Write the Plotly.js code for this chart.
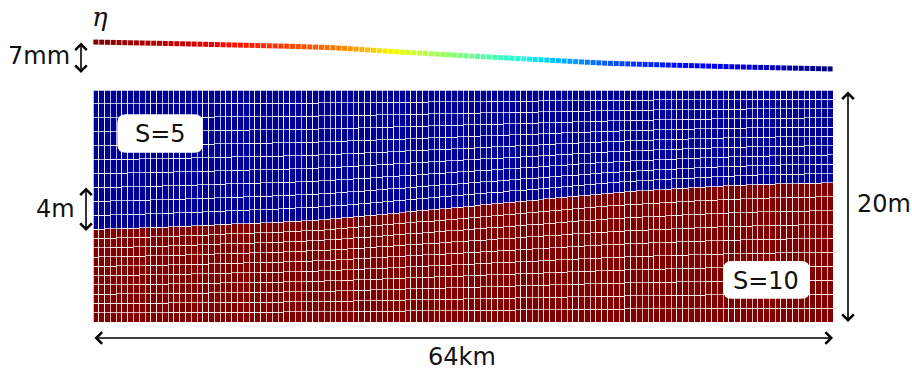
<!DOCTYPE html>
<html>
<head>
<meta charset="utf-8">
<script src="https://cdn.plot.ly/plotly-3.0.1.min.js"></script>
<style>html,body{margin:0;padding:0;background:#fff;}#chart{width:912px;height:370px;}</style>
</head>
<body>
<div id="chart"></div>
<script>
// ---- data ----
const domainKm = 64;          // horizontal extent (km)
const depthM = 20;            // total depth (m)
const nCols = 128;            // mesh columns
const nLayersLower = 10;      // layers in S=10 water
const nLayersUpper = 10;      // layers in S=5 water
// free surface elevation eta (mm) per column
const etaMm = [
 6.98,6.95,6.92,6.89,6.86,6.83,6.80,6.77,
 6.74,6.71,6.68,6.65,6.62,6.59,6.56,6.53,
 6.50,6.47,6.43,6.40,6.36,6.33,6.29,6.26,
 6.22,6.19,6.15,6.12,6.08,6.05,6.01,5.98,
 5.94,5.90,5.86,5.81,5.77,5.72,5.67,5.62,
 5.56,5.50,5.43,5.35,5.26,5.16,5.05,4.95,
 4.85,4.75,4.65,4.55,4.46,4.37,4.29,4.21,
 4.13,4.04,3.95,3.86,3.77,3.68,3.59,3.51,
 3.43,3.35,3.27,3.19,3.11,3.03,2.95,2.87,
 2.79,2.71,2.63,2.55,2.47,2.39,2.31,2.23,
 2.15,2.07,1.99,1.91,1.83,1.75,1.67,1.59,
 1.52,1.47,1.42,1.37,1.32,1.28,1.23,1.19,
 1.15,1.11,1.07,1.03,0.99,0.95,0.91,0.87,
 0.83,0.79,0.75,0.71,0.67,0.63,0.59,0.55,
 0.51,0.48,0.44,0.41,0.38,0.34,0.31,0.28,
 0.25,0.22,0.19,0.16,0.12,0.09,0.05,0.02];
// height of the S=10 / S=5 interface above the bottom (m) per column
const interfaceM = [
 8.00,8.01,8.02,8.04,8.05,8.07,8.08,8.10,
 8.11,8.13,8.15,8.17,8.19,8.21,8.23,8.25,
 8.27,8.29,8.31,8.33,8.36,8.38,8.41,8.43,
 8.45,8.47,8.49,8.51,8.53,8.55,8.57,8.60,
 8.62,8.65,8.67,8.70,8.72,8.75,8.78,8.81,
 8.85,8.89,8.93,8.97,9.02,9.06,9.11,9.15,
 9.20,9.25,9.30,9.34,9.39,9.44,9.49,9.53,
 9.58,9.63,9.67,9.72,9.77,9.81,9.86,9.91,
 9.95,10.00,10.05,10.09,10.14,10.19,10.23,10.28,
 10.33,10.37,10.42,10.47,10.51,10.56,10.61,10.65,
 10.70,10.75,10.79,10.84,10.89,10.93,10.98,11.03,
 11.07,11.12,11.16,11.20,11.23,11.27,11.30,11.33,
 11.36,11.39,11.42,11.45,11.48,11.51,11.54,11.57,
 11.60,11.63,11.66,11.68,11.71,11.74,11.76,11.78,
 11.80,11.82,11.84,11.86,11.87,11.89,11.90,11.92,
 11.93,11.94,11.95,11.96,11.97,11.98,11.99,12.00];
const labels = {eta:'η', eta7:'7mm', dz:'4m', depth:'20m', length:'64km', s5:'S=5', s10:'S=10'};

// ---- build ----
const dx = domainKm / nCols;
const xc = Array.from({length:nCols}, (_, i) => (i + 0.5) * dx);
const lowerColor = 'rgb(128,0,0)';
const upperColor = 'rgb(0,0,150)';
const gridLine = {color:'rgba(255,255,255,0.8)', width:0.9};
const traces = [];
for (let k = 0; k < nLayersLower; k++) {
  traces.push({type:'bar', x:xc, y:interfaceM.map(h => h / nLayersLower), width:dx,
    marker:{color:lowerColor, line:gridLine}, hoverinfo:'skip'});
}
for (let k = 0; k < nLayersUpper; k++) {
  traces.push({type:'bar', x:xc, y:interfaceM.map(h => (depthM - h) / nLayersUpper), width:dx,
    marker:{color:upperColor, line:gridLine}, hoverinfo:'skip'});
}
const jet = [[0,'rgb(0,0,127)'],[0.11,'rgb(0,0,255)'],[0.125,'rgb(0,0,255)'],[0.34,'rgb(0,219,255)'],
  [0.35,'rgb(0,229,247)'],[0.375,'rgb(21,255,226)'],[0.64,'rgb(238,255,8)'],[0.65,'rgb(247,245,0)'],
  [0.66,'rgb(255,236,0)'],[0.89,'rgb(255,19,0)'],[0.91,'rgb(232,0,0)'],[1,'rgb(127,0,0)']];
traces.push({type:'scatter', mode:'markers', x:xc, y:etaMm, xaxis:'x', yaxis:'y2', cliponaxis:false,
  marker:{symbol:'square', size:5, color:etaMm, colorscale:jet, cmin:Math.min(...etaMm), cmax:Math.max(...etaMm), line:{width:0}},
  hoverinfo:'skip'});

const W = 912, H = 370;
const px = v => v / W, py = v => 1 - v / H;
const font = {family:'DejaVu Sans, sans-serif', size:24, color:'#111'};
function label(x, y, text, f) {
  return {xref:'paper', yref:'paper', x:px(x), y:py(y), xanchor:'center', yanchor:'middle', text:text, showarrow:false, font:f || font};
}
function dblArrow(x0, y0, x1, y1) {
  return {xref:'paper', yref:'paper', x:px(x1), y:py(y1), ax:x0 - x1, ay:y0 - y1, axref:'pixel', ayref:'pixel',
    text:'', showarrow:true, arrowside:'end+start', arrowhead:4, arrowsize:1.4, arrowwidth:1.6, arrowcolor:'#000', standoff:0, startstandoff:0};
}
function roundRect(x0, y0, x1, y1, r) {
  const rx = r, ry = r;
  return {type:'path', xref:'x', yref:'y', fillcolor:'#fff', line:{width:0}, layer:'above',
    path:`M${x0+rx},${y0} L${x1-rx},${y0} Q${x1},${y0} ${x1},${y0+ry} L${x1},${y1-ry} Q${x1},${y1} ${x1-rx},${y1} L${x0+rx},${y1} Q${x0},${y1} ${x0},${y1-ry} L${x0},${y0+ry} Q${x0},${y0} ${x0+rx},${y0} Z`};
}
const layout = {
  width:W, height:H, margin:{l:0, r:0, t:0, b:0}, paper_bgcolor:'#fff', plot_bgcolor:'rgba(0,0,0,0)',
  showlegend:false, barmode:'stack', bargap:0,
  xaxis:{domain:[93/W, 833/W], range:[0, domainKm], visible:false, fixedrange:true},
  yaxis:{domain:[48/H, 280/H], range:[0, depthM], visible:false, fixedrange:true},
  yaxis2:{domain:[301/H, 328/H], range:[0, 7], visible:false, anchor:'x', fixedrange:true},
  shapes:[
    roundRect(2.1, 14.6, 9.5, 17.9, 0.75),
    roundRect(54.5, 2.0, 62.0, 5.25, 0.75)
  ],
  annotations:[
    label(100, 17, labels.eta, {family:'DejaVu Serif, serif', size:26, color:'#111', style:'italic'}),
    label(39, 56, labels.eta7),
    label(55, 209, labels.dz),
    label(884, 204, labels.depth),
    label(462, 357, labels.length),
    label(160, 134, labels.s5),
    label(766, 281, labels.s10),
    dblArrow(81, 41, 81, 73),
    dblArrow(86, 186, 86, 231),
    dblArrow(848, 90, 848, 322),
    dblArrow(93, 338, 833, 338)
  ]
};
Plotly.newPlot('chart', traces, layout, {staticPlot:true, displayModeBar:false});
</script>
</body>
</html>
